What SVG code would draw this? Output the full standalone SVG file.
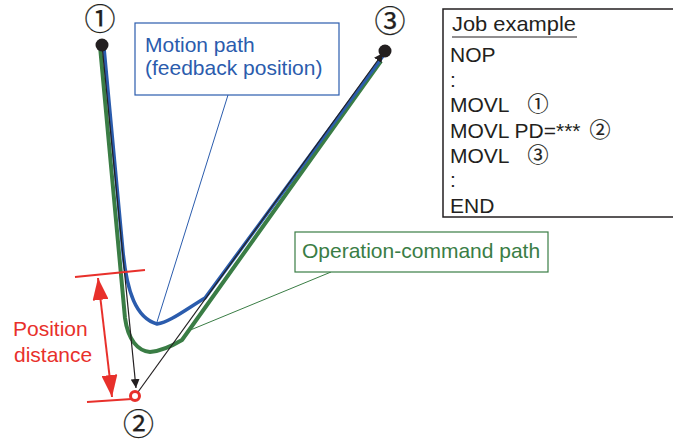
<svg xmlns="http://www.w3.org/2000/svg" width="673" height="443" viewBox="0 0 673 443">
<style>
  text { font-family: "Liberation Sans", Arial, sans-serif; font-size: 21px; }
  .cd { font-family: "Noto Sans CJK JP", "DejaVu Sans", sans-serif; stroke: #231f20; stroke-width: 0.25; }
  .big { font-size: 31px; }
  .sm { font-size: 21px; stroke-width: 0.2; }
  .blue { fill: #2b5cad; }
  .green { fill: #3a7d45; }
  .red { fill: #e8302b; }
  .blk { fill: #231f20; }
  .pb { fill: none; stroke: #2b5cad; stroke-width: 3.5; stroke-linejoin: round; }
  .pg { fill: none; stroke: #3a7d45; stroke-width: 4; stroke-linejoin: round; }
  .thinb { stroke: #2b5cad; stroke-width: 1; fill: none; }
  .thing { stroke: #3a7d45; stroke-width: 1; fill: none; }
  .cmd { stroke: #231f20; stroke-width: 1.2; fill: none; }
  .redl { stroke: #e8302b; stroke-width: 2; fill: none; }
</style>
<defs>
  <marker id="ah" viewBox="0 0 10 10" refX="10" refY="5" markerWidth="9" markerHeight="9" markerUnits="userSpaceOnUse" orient="auto">
    <path d="M0,0 L10,5 L0,10 z" fill="#231f20"/>
  </marker>
  <marker id="ra" viewBox="0 0 10 10" refX="10" refY="5" markerWidth="22" markerHeight="16" markerUnits="userSpaceOnUse" orient="auto-start-reverse" preserveAspectRatio="none">
    <path d="M0,0 L10,5 L0,10 z" fill="#e8302b"/>
  </marker>
</defs>

<g id="connectors">
  <!-- operation-command path (green) -->
  <path class="pg" d="M100,46 L125,318 C128,340 138,351 150,352 C162,351 172,346 182,340 L381,61"/>
  <!-- motion path (blue) -->
  <path class="pb" d="M104,48 L123,252 C127,292 136,318 157,324 C170,322 185,310 205,298 L383,56"/>
  <!-- command lines -->
  <line class="cmd" x1="102" y1="45" x2="136" y2="388" marker-end="url(#ah)"/>
  <line class="cmd" x1="138" y1="392" x2="383" y2="53" marker-end="url(#ah)"/>
  <!-- callout leaders -->
  <line class="thinb" x1="157" y1="322" x2="228" y2="95"/>
  <line class="thing" x1="188" y1="331" x2="331" y2="272"/>
  <!-- position distance dimension -->
  <line class="redl" x1="75" y1="277" x2="145" y2="270"/>
  <line class="redl" x1="87" y1="402" x2="132" y2="399"/>
  <line class="redl" x1="98" y1="278" x2="112" y2="397" marker-start="url(#ra)" marker-end="url(#ra)"/>
</g>

<g id="p1">
  <circle cx="102" cy="45" r="6.5" fill="#231f20"/>
  <text class="cd big blk" x="100" y="30" text-anchor="middle">①</text>
</g>
<g id="p3">
  <circle cx="385" cy="51" r="6.5" fill="#231f20"/>
  <text class="cd big blk" x="390" y="32" text-anchor="middle">③</text>
</g>
<g id="p2">
  <circle cx="135" cy="396" r="4.5" fill="#fff" stroke="#e8302b" stroke-width="3"/>
  <text class="cd big blk" x="138.5" y="435" text-anchor="middle">②</text>
</g>

<g id="motion-label">
  <rect x="135" y="23" width="204" height="72" fill="#fff" stroke="#2b5cad" stroke-width="1.2"/>
  <text class="blue" x="145" y="52">Motion path</text>
  <text class="blue" x="145" y="75">(feedback position)</text>
</g>

<g id="command-label">
  <rect x="295" y="232" width="253" height="40" fill="#fff" stroke="#3a7d45" stroke-width="1.2"/>
  <text class="green" x="302" y="258">Operation-command path</text>
</g>

<g id="distance-label">
  <text class="red" x="13" y="336">Position</text>
  <text class="red" x="14" y="362">distance</text>
</g>

<g id="job">
  <rect x="443" y="9" width="240" height="208" fill="#fff" stroke="#231f20" stroke-width="1.5"/>
  <text class="blk" x="452" y="31" textLength="124" lengthAdjust="spacingAndGlyphs">Job example</text>
  <line x1="452" y1="37" x2="577" y2="37" stroke="#231f20" stroke-width="1.2"/>
  <text class="blk" x="450" y="62">NOP</text>
  <text class="blk" x="450" y="87">:</text>
  <text class="blk" x="450" y="112">MOVL</text>
  <text class="cd sm blk" x="538" y="111" text-anchor="middle">①</text>
  <text class="blk" x="450" y="138">MOVL PD=***</text>
  <text class="cd sm blk" x="600" y="137" text-anchor="middle">②</text>
  <text class="blk" x="450" y="163">MOVL</text>
  <text class="cd sm blk" x="538" y="162" text-anchor="middle">③</text>
  <text class="blk" x="450" y="187">:</text>
  <text class="blk" x="450" y="213">END</text>
</g>
</svg>
